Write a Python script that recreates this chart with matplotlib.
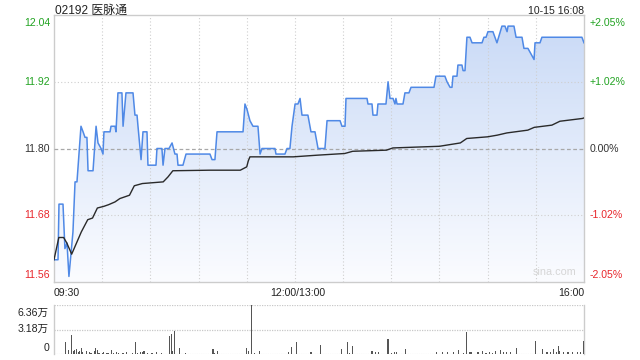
import matplotlib
matplotlib.use('Agg')
import matplotlib.pyplot as plt
import matplotlib.transforms as mtransforms
import numpy as np
from matplotlib.colors import LinearSegmentedColormap

plt.rcParams['font.family'] = ['Liberation Sans', 'Noto Sans CJK SC', 'DejaVu Sans']

title = '02192 医脉通'
stamp = '10-15 16:08'

# minutes of trading since 09:30 (lunch break removed)
price_t = [0, 2.5, 3.1, 5.6, 6.8, 8.1, 9.3, 11.8, 13.1, 14.3, 16.8, 18.1, 19.3, 20.5, 21.2, 24.3,
           26.2, 27.4, 29.3, 30.5, 31.1, 34.9, 35.5, 38.0, 38.6, 39.8, 42.3, 43.0, 44.8, 49.2,
           50.4, 51.7, 52.3, 54.2, 55.4, 57.9, 58.5, 63.5, 64.1, 67.2, 67.9, 69.1, 71.6, 73.5,
           75.3, 76.6, 77.2, 80.3, 82.2, 97.1, 98.4, 100.2, 101.5, 117.7, 118.9, 120.2, 122.0,
           123.9, 127.0, 128.3, 129.5, 137.6, 138.2, 143.8, 145.1, 146.9, 148.2, 150.1, 151.9,
           153.2, 154.4, 158.1, 160.0, 162.5, 164.4, 168.7, 170.0, 178.1, 179.3, 181.2, 181.8,
           194.9, 195.5, 198.0, 198.6, 201.1, 201.7, 206.7, 208.0, 209.2, 211.1, 212.3, 212.9,
           213.6, 217.3, 218.5, 221.0, 222.3, 236.6, 237.8, 243.4, 244.7, 246.6, 247.8, 248.4,
           250.9, 251.5, 254.0, 254.7, 255.9, 257.1, 259.0, 260.3, 266.5, 267.7, 269.0, 270.2,
           273.3, 275.8, 278.9, 280.8, 282.1, 282.7, 286.4, 287.7, 291.4, 292.6, 295.1, 297.0,
           298.9, 299.5, 302.6, 303.8, 328.7, 330]
price_v = [11.60, 11.60, 11.70, 11.70, 11.62, 11.63, 11.57, 11.65, 11.74, 11.74, 11.84, 11.83,
           11.82, 11.82, 11.76, 11.76, 11.84, 11.81, 11.80, 11.79, 11.83, 11.83, 11.84, 11.84,
           11.83, 11.90, 11.90, 11.84, 11.90, 11.90, 11.86, 11.86, 11.84, 11.78, 11.83, 11.83,
           11.77, 11.77, 11.80, 11.80, 11.77, 11.80, 11.80, 11.81, 11.79, 11.79, 11.77, 11.77,
           11.79, 11.79, 11.78, 11.78, 11.83, 11.83, 11.88, 11.87, 11.85, 11.84, 11.84, 11.79,
           11.80, 11.80, 11.79, 11.79, 11.80, 11.80, 11.84, 11.88, 11.88, 11.89, 11.86, 11.86,
           11.83, 11.83, 11.80, 11.80, 11.85, 11.85, 11.84, 11.84, 11.89, 11.89, 11.88, 11.88,
           11.86, 11.86, 11.88, 11.88, 11.92, 11.89, 11.89, 11.88, 11.89, 11.88, 11.88, 11.90,
           11.90, 11.91, 11.91, 11.93, 11.93, 11.92, 11.91, 11.91, 11.93, 11.93, 11.95, 11.95,
           11.94, 11.94, 12.00, 12.00, 11.99, 11.99, 12.00, 12.00, 12.01, 12.01, 11.99, 12.02,
           12.02, 12.01, 12.02, 12.02, 12.00, 12.00, 11.98, 11.98, 11.97, 11.96, 11.99, 11.99,
           12.00, 12.00, 11.99]

avg_t = [0, 3, 6, 8, 11, 14, 17, 21, 24, 27, 31, 34, 38, 41, 47, 50, 55, 68, 71, 74, 97, 116,
         118, 120, 121, 122, 149, 164, 181, 186, 207, 211, 240, 253, 257, 270, 276, 282, 295,
         299, 310, 315, 329, 330]
avg_v = [11.60, 11.64, 11.64, 11.63, 11.61, 11.63, 11.65, 11.672, 11.675, 11.693, 11.696,
         11.699, 11.704, 11.71, 11.716, 11.733, 11.737, 11.74, 11.749, 11.76, 11.761, 11.761,
         11.764, 11.767, 11.778, 11.785, 11.785, 11.788, 11.791, 11.795, 11.797, 11.801,
         11.804, 11.81, 11.818, 11.821, 11.824, 11.828, 11.833, 11.838, 11.842, 11.849,
         11.854, 11.855]

# volume (in 万 shares) per minute
vol_t = [7, 9, 11, 12, 13, 14, 15, 16, 17, 18, 20, 22, 23, 25, 26, 27, 28, 30, 31, 33, 34, 36,
         37, 39, 40, 43, 45, 49, 51, 52, 54, 55, 56, 58, 61, 64, 67, 72, 73, 74, 75, 78, 82,
         99, 100, 102, 120, 121, 123, 125, 128, 146, 148, 151, 160, 166, 179, 183, 184, 186,
         198, 200, 202, 208, 210, 212, 213, 219, 238, 242, 245, 249, 252, 255, 257, 259, 260,
         264, 267, 269, 271, 273, 275, 278, 280, 282, 284, 288, 300, 304, 307, 309, 311, 313,
         314, 315, 317, 320, 323, 326, 328, 330]
vol_v = [1.50, 0.56, 2.49, 0.43, 0.56, 0.69, 0.26, 0.43, 0.77, 0.21, 0.43, 0.21, 0.13, 0.43,
         0.77, 0.56, 0.13, 0.13, 0.21, 0.13, 0.13, 0.56, 0.13, 0.21, 0.13, 0.13, 0.21, 0.13,
         1.50, 0.13, 0.21, 0.30, 0.43, 0.13, 0.13, 0.21, 0.09, 2.28, 2.62, 0.43, 3.01, 0.77,
         0.09, 0.69, 0.13, 0.43, 0.77, 0.43, 6.36, 0.13, 0.43, 0.26, 0.95, 1.50, 0.21, 1.20,
         0.69, 1.59, 0.13, 1.07, 0.43, 0.21, 0.30, 1.98, 0.13, 0.21, 0.21, 0.69, 0.26, 0.26,
         0.21, 0.26, 0.56, 0.13, 2.88, 0.21, 0.26, 0.21, 0.43, 0.13, 0.26, 0.13, 0.43, 0.56,
         0.26, 0.21, 0.21, 0.77, 1.72, 0.69, 0.26, 0.26, 0.69, 0.26, 1.07, 0.34, 0.21, 0.21,
         0.21, 0.21, 0.21, 1.72]

price_ticks = [12.04, 11.92, 11.80, 11.68, 11.56]
price_labels = ['12.04', '11.92', '11.80', '11.68', '11.56']
pct_labels = ['+2.05%', '+1.02%', '0.00%', '-1.02%', '-2.05%']
x_ticks = [0, 150, 330]
x_labels = ['09:30', '12:00/13:00', '16:00']
vol_ticks = [6.36, 3.18, 0]
vol_labels = ['6.36万', '3.18万', '0']

GREEN = '#22a322'
RED = '#e8262c'
DARK = '#333333'
label_colors = [GREEN, GREEN, DARK, RED, RED]

W, H = 640, 360
fig = plt.figure(figsize=(6.4, 3.6), dpi=100)
fx = lambda px: px / W
fy = lambda py: 1 - py / H

ax = fig.add_axes([fx(54), fy(282), fx(584) - fx(54), fy(15) - fy(282)])
ax.set_xlim(0, 330)
ax.set_ylim(11.56, 12.04)
ax.set_xticks([])
ax.set_yticks([])
for s in ax.spines.values():
    s.set_color('#cccccc')
    s.set_linewidth(1)

# grid (drawn above the fill, below the lines)
for t in range(30, 330, 30):
    ax.axvline(t, color='#cfcfcf', lw=0.8, ls=(0, (1, 2)), zorder=3)
for v in [11.92, 11.68]:
    ax.axhline(v, color='#cfcfcf', lw=0.8, ls=(0, (1, 2)), zorder=3)
ax.axhline(11.80, color='#a8a8a8', lw=0.9, ls=(0, (3, 2)), zorder=3)

# gradient fill under price
cmap = LinearSegmentedColormap.from_list('g', ['#fbfcff', '#c8d9f6'])
grad = np.linspace(0, 1, 256).reshape(-1, 1)
im = ax.imshow(grad, extent=[0, 330, 11.56, 12.04], origin='lower', aspect='auto',
               cmap=cmap, zorder=2, interpolation='bilinear')
poly = ax.fill_between(price_t, price_v, 11.56, color='none', lw=0)
path = poly.get_paths()[0]
im.set_clip_path(path, transform=ax.transData)

ax.plot(price_t, price_v, color='#4f89e6', lw=1.1, zorder=4)
ax.plot(avg_t, avg_v, color='#2a2a2a', lw=1.0, zorder=5)
ax.set_xlim(0, 330)
ax.set_ylim(11.56, 12.04)

# y labels
tl = mtransforms.blended_transform_factory(ax.transAxes, ax.transData)
for i, (v, lab, pl) in enumerate(zip(price_ticks, price_labels, pct_labels)):
    va = 'center'
    dy = 0
    if i == 0:
        va = 'top'; dy = -3
    elif i == len(price_ticks) - 1:
        va = 'bottom'; dy = 2
    off = mtransforms.offset_copy(tl, fig=fig, x=-4, y=dy, units='dots')
    ax.text(0, v, lab, transform=off, ha='right', va=va, fontsize=7.6, color=label_colors[i])
    off2 = mtransforms.offset_copy(tl, fig=fig, x=6, y=dy, units='dots')
    ax.text(1, v, pl, transform=off2, ha='left', va=va, fontsize=7.6, color=label_colors[i])

# x labels
tx = mtransforms.blended_transform_factory(ax.transData, ax.transAxes)
has = ['left', 'center', 'right']
for t, lab, ha in zip(x_ticks, x_labels, has):
    off = mtransforms.offset_copy(tx, fig=fig, x=(3 if ha == 'center' else 0), y=-11, units='dots')
    ax.text(t, 0, lab, transform=off, ha=ha, va='center', fontsize=7.6, color='#222222')

ax.text(0.985, 0.018, 'sina.com', transform=ax.transAxes, ha='right', va='bottom',
        fontsize=7.8, color='#d6d6d6')

fig.text(fx(55), fy(11), title, ha='left', va='center', fontsize=8.6, color='#222222')
fig.text(fx(584), fy(10.5), stamp, ha='right', va='center', fontsize=7.6, color='#222222')

# volume panel
axv = fig.add_axes([fx(54), fy(354), fx(584) - fx(54), fy(305) - fy(354)])
axv.set_xlim(0, 330)
axv.set_ylim(0, 6.36)
axv.set_xticks([])
axv.set_yticks([])
for k in ['top', 'bottom']:
    axv.spines[k].set_visible(False)
for k in ['left', 'right']:
    axv.spines[k].set_color('#cccccc')
    axv.spines[k].set_linewidth(1)
axv.axhline(6.36, color='#c8c8c8', lw=0.9, ls=(0, (1, 1)), zorder=1)
axv.axhline(3.18, color='#c8c8c8', lw=0.9, ls=(0, (1, 1)), zorder=1)
axv.axhline(0.02, color='#bbbbbb', lw=0.8, ls=(0, (1, 1)), zorder=1)
axv.bar(vol_t, vol_v, width=0.7, color='#555555', zorder=3)

tv = mtransforms.blended_transform_factory(axv.transAxes, axv.transData)
vdy = [-8, 1, 6]
for v, lab, d in zip(vol_ticks, vol_labels, vdy):
    off = mtransforms.offset_copy(tv, fig=fig, x=-5, y=d, units='dots')
    axv.text(0, v, lab, transform=off, ha='right', va='center', fontsize=7.6, color='#222222')

fig.savefig('out.png', dpi=100)
